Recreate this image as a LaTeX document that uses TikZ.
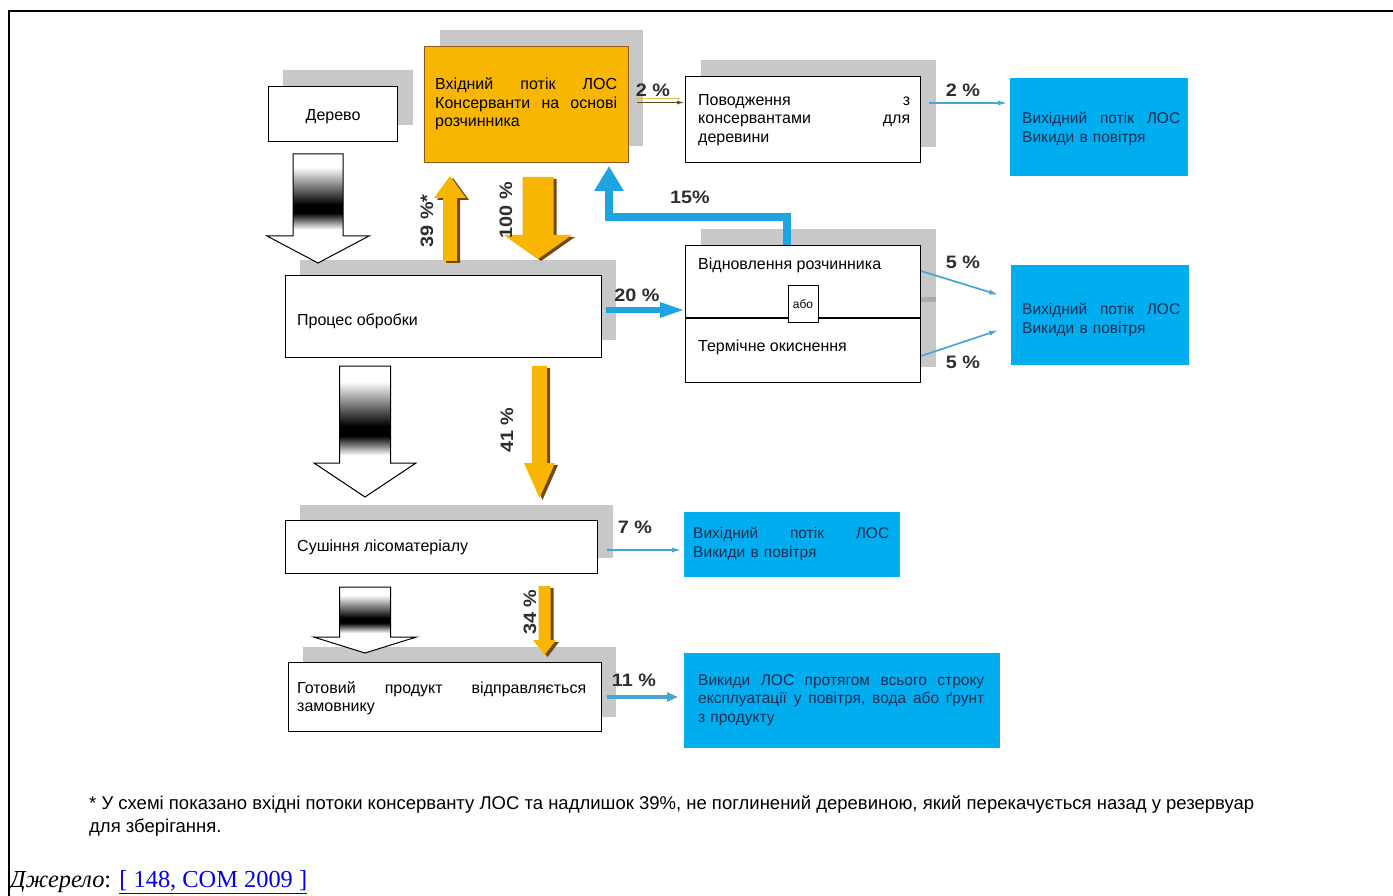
\documentclass[tikz,border=0pt]{standalone}
\usepackage{fontspec}
\setmainfont{Liberation Sans}
\newfontfamily\serifsrc{Liberation Serif}
\newfontfamily\pctf[FakeStretch=1.1]{Liberation Sans}
\usetikzlibrary{arrows.meta}
\definecolor{orng}{RGB}{248,182,0}
\definecolor{orngedge}{RGB}{140,90,20}
\definecolor{orngsh}{RGB}{115,72,15}
\definecolor{bluebox}{RGB}{0,174,239}
\definecolor{bluearr}{RGB}{30,165,225}
\definecolor{thinblue}{RGB}{70,165,210}
\definecolor{shgray}{RGB}{200,200,200}
\definecolor{navytxt}{RGB}{25,45,85}
\definecolor{pctcol}{RGB}{45,45,45}
\definecolor{linkblue}{RGB}{0,0,230}
\definecolor{yline}{RGB}{225,190,80}
\definecolor{bline}{RGB}{100,70,40}
\pgfdeclareverticalshading{woodgrad}{100bp}{color(0bp)=(white); color(29bp)=(white); color(39bp)=(black); color(44bp)=(black); color(67bp)=(white); color(100bp)=(white)}
\newcommand\jline[2]{\leavevmode\makebox[#1][l]{#2}}
% block arrow, down/up: cx, half shaft, tail y, head base y, half head, tip y
\newcommand\blockpoly[6]{({#1-#2},#3) -- ({#1+#2},#3) -- ({#1+#2},#4) -- ({#1+#5},#4) -- (#1,#6) -- ({#1-#5},#4) -- ({#1-#2},#4) -- cycle}
\newcommand\orangearrow[6]{%
  \fill[orngsh, xshift=3pt, yshift=-2pt] \blockpoly{#1}{#2}{#3}{#4}{#5}{#6};
  \fill[orng] \blockpoly{#1}{#2}{#3}{#4}{#5}{#6};}
\newcommand\gradarrow[6]{%
  \shade[shading=woodgrad] ({#1-#2},#3) rectangle ({#1+#2},#4);
  \fill[white] ({#1-#5},#4) -- ({#1+#5},#4) -- (#1,#6) -- cycle;
  \draw[black, line width=1pt, line join=miter] \blockpoly{#1}{#2}{#3}{#4}{#5}{#6};}
\begin{document}
\begin{tikzpicture}[x=1pt,y=-1pt,
  font=\fontsize{16}{18.5}\selectfont,
  wbox/.style={draw=black, line width=1.2pt, fill=white, anchor=north west, inner sep=0pt},
  shbox/.style={fill=shgray},
  bbox/.style={fill=bluebox, anchor=north west, inner sep=0pt},
  obox/.style={fill=orng, draw=orngedge, line width=0.8pt, anchor=north west, inner sep=0pt},
  lbl/.style={anchor=west, inner sep=0pt, align=left},
  blbl/.style={lbl, text=navytxt, font=\fontsize{15.5}{18.5}\selectfont},
  pct/.style={font=\pctf\bfseries\fontsize{18}{21}\selectfont, text=pctcol, inner sep=0pt},
  thinarr/.style={draw=thinblue, line width=1.7pt, -{Latex[length=10pt,width=5pt]}},
  fatarr/.style={draw=bluearr, line join=miter}
]
\useasboundingbox (0,0) rectangle (1393,896);
\draw[line width=2pt] (9,896) -- (9,11) -- (1393,11);

% shadows
\fill[shbox] (283,70) rectangle (413,125);
\fill[shbox] (440,30) rectangle (643,146);
\fill[shbox] (701,60) rectangle (936,147);
\fill[shbox] (701,229) rectangle (936,367);
\fill[black!33] (920,297) rectangle (936,302);
\fill[shbox] (300,260) rectangle (616,340);
\fill[shbox] (300,505) rectangle (613,558);
\fill[shbox] (303,647) rectangle (616,717);

% boxes
\node[wbox, minimum width=129pt, minimum height=55pt] (derevo) at (268,86) {};
\node (tderevo) at ([yshift=-3pt]derevo.center) {Дерево};
\node[obox, minimum width=204pt, minimum height=116pt] (orange) at (424,46) {};
\node[lbl, text width=182pt] (torange) at (435,104) {\jline{182pt}{Вхідний\hfill потік\hfill ЛОС}\\\jline{182pt}{Консерванти\hfill на\hfill основі}\\розчинника};
\node[wbox, minimum width=235pt, minimum height=86pt] (povod) at (685,76) {};
\node[lbl, text width=212pt] (tpovod) at (698,120) {\jline{212pt}{Поводження\hfill з}\\\jline{212pt}{консервантами\hfill для}\\деревини};
\node[bbox, minimum width=178pt, minimum height=98pt] (b1) at (1010,78) {};
\node[blbl, text width=158pt] (tb1) at (1022,129) {\jline{158pt}{Вихідний\hfill потік\hfill ЛОС}\\Викиди в повітря};

\node[wbox, minimum width=235pt, minimum height=137pt] (vidn) at (685,245) {};
\draw[line width=1.2pt] (vidn.west |- 0,318) -- (vidn.east |- 0,318);
\node[draw=black, line width=1pt, fill=white, minimum width=30pt, minimum height=36pt, inner sep=0pt, font=\fontsize{12}{14}\selectfont] (abo) at (803,304) {або};
\node[lbl] (tvidn) at (698,265) {Відновлення розчинника};
\node[lbl] (tterm) at (698,347) {Термічне окиснення};
\node[bbox, minimum width=178pt, minimum height=100pt] (b2) at (1011,265) {};
\node[blbl, text width=158pt] (tb2) at (1022,320) {\jline{158pt}{Вихідний\hfill потік\hfill ЛОС}\\Викиди в повітря};

\node[wbox, minimum width=316pt, minimum height=82pt] (proc) at (285,275) {};
\node[lbl] (tproc) at (297,321) {Процес обробки};

\node[wbox, minimum width=312pt, minimum height=53pt] (sush) at (285,520) {};
\node[lbl] (tsush) at (297,547) {Сушіння лісоматеріалу};
\node[bbox, minimum width=216pt, minimum height=65pt] (b3) at (684,512) {};
\node[blbl, text width=196pt] (tb3) at (693,544) {\jline{196pt}{Вихідний\hfill потік\hfill ЛОС}\\Викиди в повітря};

\node[wbox, minimum width=313pt, minimum height=69pt] (gotov) at (288,662) {};
\node[lbl, text width=289pt] (tgotov) at (297,698) {\jline{289pt}{Готовий\hfill продукт\hfill відправляється}\\замовнику};
\node[bbox, minimum width=316pt, minimum height=95pt] (b4) at (684,653) {};
\node[blbl, text width=286pt] (tb4) at (698,700) {\jline{286pt}{Викиди\hfill ЛОС\hfill протягом\hfill всього\hfill строку}\\\jline{286pt}{експлуатації\hfill у\hfill повітря,\hfill вода\hfill або\hfill ґрунт}\\з продукту};

% gradient (material flow) arrows
\gradarrow{318}{25}{154}{236}{51}{263}
\gradarrow{365}{25.5}{366}{463}{51}{497}
\gradarrow{365}{25.5}{587}{637}{51.5}{653}

% orange flow arrows
\orangearrow{450}{7}{261}{198}{16}{176}
\orangearrow{538}{15.5}{177}{235}{34}{259}
\orangearrow{539.5}{7.5}{366}{463}{15.5}{498}
\orangearrow{544.5}{6}{586}{640}{11.5}{655}

% left 2% double line
\coordinate (y2a) at (635,98.5);
\coordinate (y2b) at (637,102.5);
\draw[yline, line width=1.6pt, shorten >=5pt] (y2a) -- (y2a -| povod.west);
\draw[bline, line width=1.4pt, -{Latex[length=8pt,width=4pt]}] (y2b) -- (y2b -| povod.west);

% thin blue arrows
\coordinate (s2r) at (929,103);
\draw[thinarr, shorten >=2pt] (s2r) -- (s2r -| b1.west);
\coordinate (s5a) at (921,271);
\coordinate (e5a) at (999,295);
\draw[thinarr] (s5a) -- (e5a);
\coordinate (s5b) at (921,356);
\coordinate (e5b) at (999,330);
\draw[thinarr] (s5b) -- (e5b);
\coordinate (s7) at (607,550);
\draw[thinarr, shorten >=2pt] (s7) -- (s7 -| b3.west);
\coordinate (s11) at (607,697);
\draw[draw=thinblue, line width=3.5pt, -{Triangle[length=11pt,width=9pt]}, shorten >=6pt] (s11) -- (s11 -| b4.west);

% fat blue arrows
\coordinate (s20) at (606,310);
\draw[fatarr, line width=6pt, -{Triangle[length=25pt,width=14pt]}] (s20) -- (s20 -| vidn.west);
\coordinate (fb) at (787,245);
\coordinate (fbend) at (609,166);
\draw[fatarr, line width=8pt, -{Triangle[length=25pt,width=28pt]}] (fb) |- (609,217) -- (fbend);

% percentage labels
\node[pct] (p2a) at (653,90) {2 \%};
\node[pct] (p2b) at (963,90) {2 \%};
\node[pct] (p15) at (690,197) {15\%};
\node[pct] (p20) at (637,295) {20 \%};
\node[pct] (p5a) at (963,262) {5 \%};
\node[pct] (p5b) at (963,362) {5 \%};
\node[pct] (p7) at (635,527) {7 \%};
\node[pct] (p11) at (634,680) {11 \%};
\node[pct, rotate=90] (p39) at (427,221) {39 \%*};
\node[pct, rotate=90] (p100) at (506,210) {100 \%};
\node[pct, rotate=90] (p41) at (507,430) {41 \%};
\node[pct, rotate=90] (p34) at (530,612) {34 \%};

% footnote and source
\node[anchor=west, inner sep=0pt, align=left, font=\fontsize{18.5}{22.5}\selectfont] (foot) at (89,816)
  {* У схемі показано вхідні потоки консерванту ЛОС та надлишок 39\%, не поглинений деревиною, який перекачується назад у резервуар\\для зберігання.};
\node[anchor=west, inner sep=0pt, font=\serifsrc\fontsize{24.4}{27}\selectfont] (src) at (10,882)
  {\textit{Джерело}: \textcolor{linkblue}{\underline{[ 148, COM 2009 ]}}};
\end{tikzpicture}
\end{document}
